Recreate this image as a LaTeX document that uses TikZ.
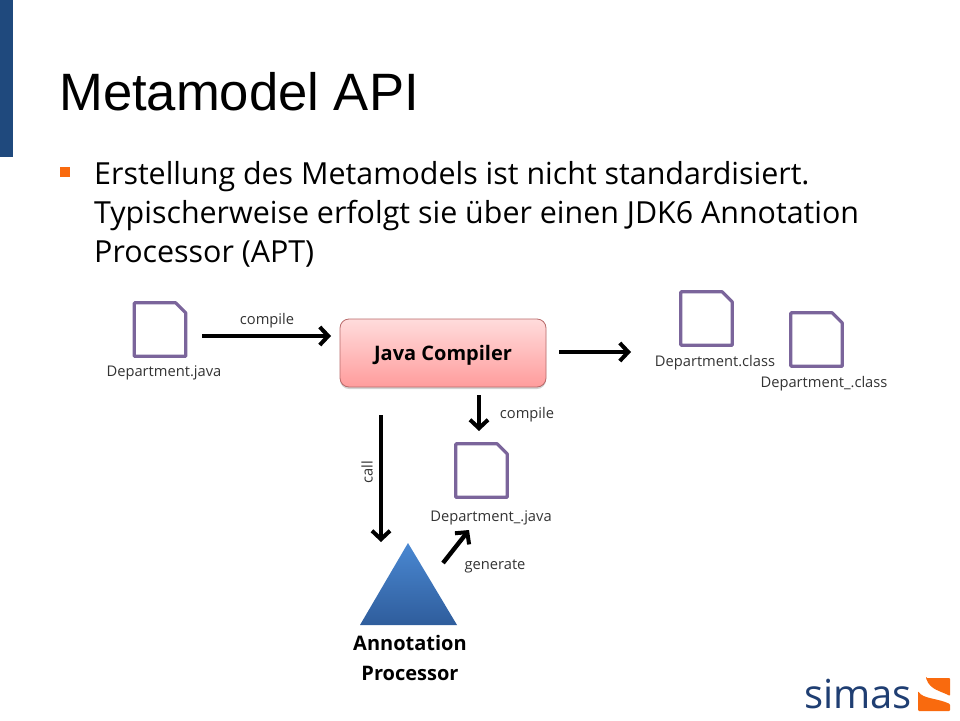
\documentclass[tikz,border=0pt]{standalone}
\usepackage{fontspec}
\setmainfont{Open Sans}
\newfontfamily\titlefont{Liberation Sans}
\usetikzlibrary{arrows.meta,shadows,positioning}
\definecolor{barblue}{HTML}{1F497D}
\definecolor{bulletorange}{HTML}{F96A0E}
\definecolor{docviolet}{HTML}{7B659B}
\definecolor{logoblue}{HTML}{1F3E72}
\definecolor{tritop}{HTML}{4A88D2}
\definecolor{tribottom}{HTML}{2F5D9C}
\definecolor{boxtop}{HTML}{FFDCDC}
\definecolor{boxbottom}{HTML}{FF9C9C}
\definecolor{boxline}{HTML}{B86A6A}
\tikzset{
  flow/.style={-{Straight Barb[length=8.5pt,width=18pt,line width=4pt]}, line width=4.4pt, black},
  docbox/.style={minimum width=51pt, minimum height=53pt, inner sep=0pt},
  docline/.style={draw=docviolet, line width=3.2pt, line join=round},
  small/.style={font=\fontsize{14.7}{17}\selectfont, inner sep=0pt, text=black!80},
  big/.style={font=\fontsize{20}{30}\selectfont\bfseries, inner sep=0pt, align=center},
  bodyline/.style={anchor=base west, inner sep=0pt, font=\fontsize{30.4}{39}\selectfont}
}
\newcommand{\docicon}[2]{
  \node[docbox] (#1) at (#2) {};
  \draw[docline] (#1.south west) -- (#1.north west) -- ([xshift=-10pt]#1.north east)
    -- ([yshift=-10pt]#1.north east) -- (#1.south east) -- cycle;
}
\begin{document}
\begin{tikzpicture}[x=1pt,y=-1pt]
\useasboundingbox (0,0) rectangle (960,720);
% slide head
\fill[barblue] (0,0) rectangle (13,157);
\node[anchor=base west, inner sep=0pt, font=\titlefont\fontsize{52.6}{60}\selectfont] (title) at (59,110) {Metamodel API};
\fill[bulletorange] (60,167) rectangle (70,177);
\node[bodyline] (line1) at (94,184) {Erstellung des Metamodels ist nicht standardisiert.};
\node[bodyline] (line2) at (94,223) {Typischerweise erfolgt sie über einen JDK6 Annotation};
\node[bodyline] (line3) at (94,262) {Processor (APT)};

% files
\docicon{djava}{160,329.5}
\docicon{dmeta}{481.5,470.5}
\docicon{dclass}{706.5,318.5}
\docicon{dmclass}{816.5,339.5}
\node[small] (ljava) at (164,373) {Department.java};
\node[small] (lmeta) at (491,518) {Department\_.java};
\node[small] (lclass) at (715,363) {Department.class};
\node[small] (lmclass) at (824,384) {Department\_.class};

% compiler
\node[rounded corners=9pt, draw=boxline, line width=0.8pt, top color=boxtop, bottom color=boxbottom,
  minimum width=206pt, minimum height=68pt, inner sep=0pt, text depth=0pt, drop shadow={shadow xshift=0pt, shadow yshift=-2pt, opacity=0.35},
  font=\fontsize{20}{24}\selectfont\bfseries] (comp) at (443,353) {Java Compiler};

% processor
\coordinate (tip) at (408,543);
\coordinate (tl) at (360,625);
\coordinate (tr) at (457,625);
\shade[top color=tritop, bottom color=tribottom] (tip) -- (tr) -- (tl) -- cycle;
\node[big] (proc) at (410,658) {Annotation\\Processor};

% arrows
\coordinate (a1) at (202,336);
\coordinate (a2) at (331,336);
\draw[flow] (a1) -- (a2);
\node[small] (c1) at (267,321) {compile};
\coordinate (a3) at (559,352);
\coordinate (a4) at (631,352);
\draw[flow] (a3) -- (a4);
\coordinate (a5) at (479,395);
\coordinate (a6) at (479,431);
\draw[flow] (a5) -- (a6);
\node[small] (c2) at (527,415) {compile};
\coordinate (a7) at (381,415);
\coordinate (a8) at (381,542);
\draw[flow] (a7) -- (a8);
\node[small, rotate=90] (c3) at (367,472) {call};
\coordinate (a9) at (443,563);
\coordinate (a10) at (469,530);
\draw[flow] (a9) -- (a10);
\node[small] (c4) at (495,566) {generate};

% logo
\node[anchor=base east, inner sep=0pt, text=logoblue, font=\fontsize{40}{50}\selectfont] (simas) at (912,708) {simas};
\fill[bulletorange, rounded corners=1pt] (926,678) -- (950,678) -- (950,696) .. controls (941,691) and (930,690) .. (926,678) -- cycle;
\fill[bulletorange, rounded corners=1pt] (918,691) .. controls (923,699) and (937,698) .. (950,704) -- (950,711) -- (918,711) -- cycle;
\end{tikzpicture}
\end{document}
